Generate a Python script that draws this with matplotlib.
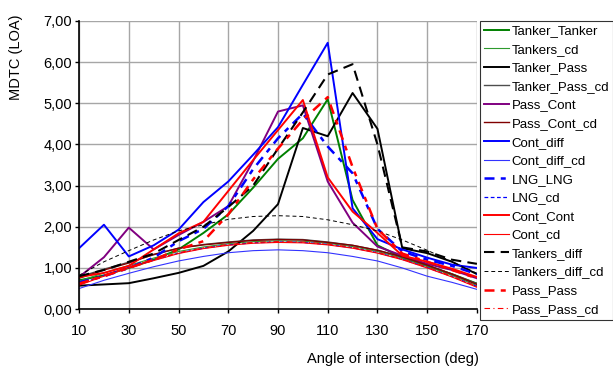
import matplotlib.pyplot as plt
from matplotlib.ticker import FuncFormatter

plt.rcParams['font.family'] = ['Liberation Sans', 'DejaVu Sans']

angles = [10, 20, 30, 40, 50, 60, 70, 80, 90, 100, 110, 120, 130, 140, 150, 160, 170]

tanker_tanker = [0.70, 0.82, 1.00, 1.20, 1.45, 1.85, 2.30, 2.95, 3.65, 4.15, 5.10, 2.65, 1.55, 1.25, 1.05, 0.85, 0.62]
tankers_cd = [0.68, 0.88, 1.06, 1.24, 1.40, 1.51, 1.59, 1.64, 1.66, 1.65, 1.60, 1.52, 1.40, 1.24, 1.04, 0.82, 0.57]
tanker_pass = [0.57, 0.60, 0.63, 0.75, 0.88, 1.05, 1.40, 1.90, 2.55, 4.40, 4.20, 5.25, 4.38, 1.48, 1.36, 1.15, 0.85]
tanker_pass_cd = [0.78, 0.97, 1.14, 1.32, 1.48, 1.57, 1.63, 1.68, 1.70, 1.69, 1.63, 1.55, 1.43, 1.27, 1.07, 0.85, 0.62]
pass_cont = [0.78, 1.26, 1.98, 1.45, 1.80, 2.12, 2.50, 3.60, 4.80, 4.95, 3.10, 2.10, 1.52, 1.30, 1.10, 0.95, 0.75]
pass_cont_cd = [0.75, 0.95, 1.12, 1.33, 1.48, 1.56, 1.62, 1.67, 1.69, 1.68, 1.62, 1.55, 1.43, 1.27, 1.07, 0.85, 0.60]
cont_diff = [1.48, 2.05, 1.28, 1.55, 1.93, 2.60, 3.10, 3.75, 4.42, 5.45, 6.47, 2.45, 1.70, 1.45, 1.25, 1.08, 1.00]
cont_diff_cd = [0.50, 0.70, 0.87, 1.03, 1.17, 1.28, 1.37, 1.42, 1.44, 1.42, 1.37, 1.28, 1.17, 1.00, 0.80, 0.65, 0.48]
lng_lng = [0.65, 0.80, 1.00, 1.25, 1.65, 1.95, 2.50, 3.40, 4.15, 4.75, 3.95, 3.30, 1.95, 1.40, 1.20, 1.05, 0.85]
lng_cd = [0.60, 0.82, 1.01, 1.19, 1.36, 1.48, 1.56, 1.61, 1.63, 1.62, 1.57, 1.49, 1.37, 1.21, 1.01, 0.79, 0.55]
cont_cont = [0.78, 0.88, 1.05, 1.45, 1.84, 2.12, 2.87, 3.62, 4.35, 5.08, 3.20, 2.37, 1.85, 1.30, 1.15, 0.98, 0.78]
cont_cd = [0.58, 0.80, 1.00, 1.18, 1.35, 1.47, 1.55, 1.60, 1.62, 1.61, 1.56, 1.48, 1.36, 1.20, 1.00, 0.78, 0.53]
tankers_diff = [0.80, 0.95, 1.15, 1.35, 1.68, 2.00, 2.48, 3.00, 3.90, 4.78, 5.70, 5.95, 4.00, 1.50, 1.40, 1.20, 1.10]
tankers_diff_cd = [0.82, 1.15, 1.42, 1.68, 1.90, 2.05, 2.18, 2.25, 2.27, 2.25, 2.17, 2.05, 1.90, 1.68, 1.43, 1.15, 0.87]
pass_pass = [0.62, 0.80, 1.00, 1.20, 1.45, 1.65, 2.30, 3.15, 3.90, 4.60, 5.15, 3.45, 1.95, 1.35, 1.15, 0.95, 0.75]
pass_pass_cd = [0.62, 0.83, 1.02, 1.21, 1.37, 1.49, 1.57, 1.62, 1.64, 1.63, 1.58, 1.50, 1.38, 1.22, 1.02, 0.80, 0.55]

# label, values, colour, linewidth, linestyle
series = [
    ('Tanker_Tanker', tanker_tanker, '#008000', 1.4, '-'),
    ('Tankers_cd', tankers_cd, '#2e9a2e', 0.8, '-'),
    ('Tanker_Pass', tanker_pass, 'black', 1.4, '-'),
    ('Tanker_Pass_cd', tanker_pass_cd, '#4d4d4d', 1.0, '-'),
    ('Pass_Cont', pass_cont, '#800080', 1.4, '-'),
    ('Pass_Cont_cd', pass_cont_cd, '#800000', 1.0, '-'),
    ('Cont_diff', cont_diff, '#0000ff', 1.4, '-'),
    ('Cont_diff_cd', cont_diff_cd, '#3333ff', 0.8, '-'),
    ('LNG_LNG', lng_lng, '#0000ff', 1.8, (0, (4, 2.5, 2, 2.5))),
    ('LNG_cd', lng_cd, '#0000ff', 0.9, (0, (3, 2))),
    ('Cont_Cont', cont_cont, '#ff0000', 1.4, '-'),
    ('Cont_cd', cont_cd, '#ff0000', 0.8, '-'),
    ('Tankers_diff', tankers_diff, 'black', 1.5, (0, (5, 3))),
    ('Tankers_diff_cd', tankers_diff_cd, 'black', 0.7, (0, (4, 3))),
    ('Pass_Pass', pass_pass, '#ff0000', 1.8, (0, (4, 2.5, 2, 2.5))),
    ('Pass_Pass_cd', pass_pass_cd, '#ff0000', 0.8, (0, (5, 3, 1, 3))),
]

fig = plt.figure(figsize=(6.13, 3.68), dpi=100)
ax = fig.add_axes([0.129, 0.160, 0.649, 0.783])

for label, values, color, lw, ls in series:
    ax.plot(angles, values, color=color, linewidth=lw, linestyle=ls, label=label)

ax.set_xlim(10, 170)
ax.set_ylim(0, 7)
ax.set_xticks(range(10, 171, 20))
ax.set_yticks(range(0, 8))
ax.yaxis.set_major_formatter(FuncFormatter(lambda v, p: f'{v:.2f}'.replace('.', ',')))
ax.grid(True, color='#a6a6a6', linewidth=1.0)
ax.set_axisbelow(True)
ax.spines['top'].set_visible(False)
ax.spines['right'].set_visible(False)
ax.spines['left'].set_linewidth(1.2)
ax.spines['bottom'].set_linewidth(1.2)
ax.tick_params(labelsize=10.5, length=3, width=1, direction='out')
ax.tick_params(axis='x', pad=8)
ax.tick_params(axis='y', pad=2)
ax.set_xlabel('Angle of intersection (deg)', fontsize=10.5, va='center')
ax.set_ylabel('MDTC (LOA)', fontsize=10.5, va='center')
ax.xaxis.set_label_coords(0.79, -0.174)
ax.yaxis.set_label_coords(-0.158, 0.873)

leg = fig.legend(loc='upper left', bbox_to_anchor=(0.783, 0.943), fontsize=9.5,
                 frameon=True, fancybox=False, borderaxespad=0, handlelength=1.9,
                 handletextpad=0.2, labelspacing=0.48, borderpad=0.3)
leg.get_frame().set_edgecolor('black')
leg.get_frame().set_linewidth(0.8)

fig.savefig('out.png', dpi=100)
